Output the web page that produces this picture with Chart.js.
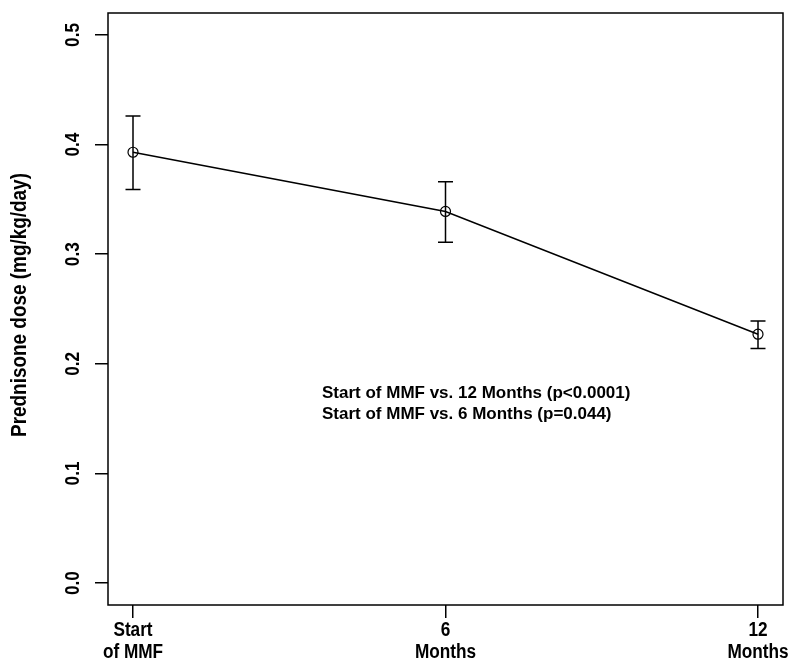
<!DOCTYPE html>
<html>
<head>
<meta charset="utf-8">
<script src="https://cdn.jsdelivr.net/npm/chart.js@4.4.1/dist/chart.umd.min.js"></script>
<style>
  body { margin: 0; background: #fff; }
  canvas { display: block; }
</style>
</head>
<body>
<canvas id="c" width="800" height="671"></canvas>
<script>
// data
const months = [0, 6, 12];
const xLabels = [['Start', 'of MMF'], ['6', 'Months'], ['12', 'Months']];
const dose = [0.393, 0.339, 0.227];
const doseLow = [0.359, 0.311, 0.214];
const doseHigh = [0.426, 0.366, 0.239];
const yTicks = [0, 0.1, 0.2, 0.3, 0.4, 0.5];
const notes = ['Start of MMF vs. 12 Months (p<0.0001)', 'Start of MMF vs. 6 Months (p=0.044)'];

const sans = '"Liberation Sans", Arial, sans-serif';

// no narrow font installed, so squeeze Liberation Sans sideways
function narrowText(ctx, text, x, y, size, rot) {
  ctx.save();
  ctx.translate(x, y);
  if (rot) ctx.rotate(-Math.PI / 2);
  ctx.scale(0.86, 1);
  ctx.font = 'bold ' + size + 'px ' + sans;
  ctx.fillText(text, 0, 0);
  ctx.restore();
}

const extras = {
  id: 'extras',
  afterDraw: chart => {
    const ctx = chart.ctx;
    const a = chart.chartArea;
    const x = chart.scales.x, y = chart.scales.y;
    ctx.save();
    ctx.strokeStyle = '#000';
    ctx.lineWidth = 1.5;
    ctx.strokeRect(a.left, a.top, a.right - a.left, a.bottom - a.top);

    // error bars
    for (let i = 0; i < months.length; i++) {
      const px = x.getPixelForValue(months[i]);
      const lo = y.getPixelForValue(doseLow[i]);
      const hi = y.getPixelForValue(doseHigh[i]);
      ctx.beginPath();
      ctx.moveTo(px, lo); ctx.lineTo(px, hi);
      ctx.moveTo(px - 7.5, lo); ctx.lineTo(px + 7.5, lo);
      ctx.moveTo(px - 7.5, hi); ctx.lineTo(px + 7.5, hi);
      ctx.stroke();
    }

    ctx.fillStyle = '#000';
    ctx.textAlign = 'center';
    ctx.textBaseline = 'middle';

    // rotated y tick labels
    yTicks.forEach(v => {
      narrowText(ctx, v.toFixed(1), 73, y.getPixelForValue(v), 20, true);
    });

    // x tick labels, two lines each
    months.forEach((m, i) => {
      const px = x.getPixelForValue(m);
      narrowText(ctx, xLabels[i][0], px, 630, 20, false);
      narrowText(ctx, xLabels[i][1], px, 652, 20, false);
    });

    // y title
    narrowText(ctx, 'Prednisone dose (mg/kg/day)', 20, 305, 22, true);

    // annotation
    ctx.textAlign = 'left';
    ctx.font = 'bold 17px ' + sans;
    ctx.fillText(notes[0], 322, 393);
    ctx.fillText(notes[1], 322, 414);
    ctx.restore();
  }
};

new Chart(document.getElementById('c'), {
  type: 'line',
  data: {
    datasets: [{
      data: months.map((m, i) => ({ x: m, y: dose[i] })),
      borderColor: '#000',
      borderWidth: 1.5,
      pointRadius: 5,
      pointBorderWidth: 1.2,
      pointBackgroundColor: 'rgba(0,0,0,0)',
      pointBorderColor: '#000',
      tension: 0
    }]
  },
  options: {
    responsive: false,
    animation: false,
    devicePixelRatio: 1,
    layout: { padding: { top: 13, right: 17, left: 0, bottom: 0 } },
    plugins: { legend: { display: false }, tooltip: { enabled: false } },
    scales: {
      x: {
        type: 'linear',
        min: -0.48,
        max: 12.48,
        afterBuildTicks: s => { s.ticks = months.map(v => ({ value: v })); },
        afterFit: s => { s.height = 66; },
        grid: { drawOnChartArea: false, tickLength: 13, color: '#000', lineWidth: 1.5 },
        border: { display: false },
        ticks: { display: false }
      },
      y: {
        min: -0.02,
        max: 0.52,
        afterBuildTicks: s => { s.ticks = yTicks.map(v => ({ value: v })); },
        afterFit: s => { s.width = 108; },
        grid: { drawOnChartArea: false, tickLength: 13, color: '#000', lineWidth: 1.5 },
        border: { display: false },
        ticks: { display: false }
      }
    }
  },
  plugins: [extras]
});
</script>
</body>
</html>
